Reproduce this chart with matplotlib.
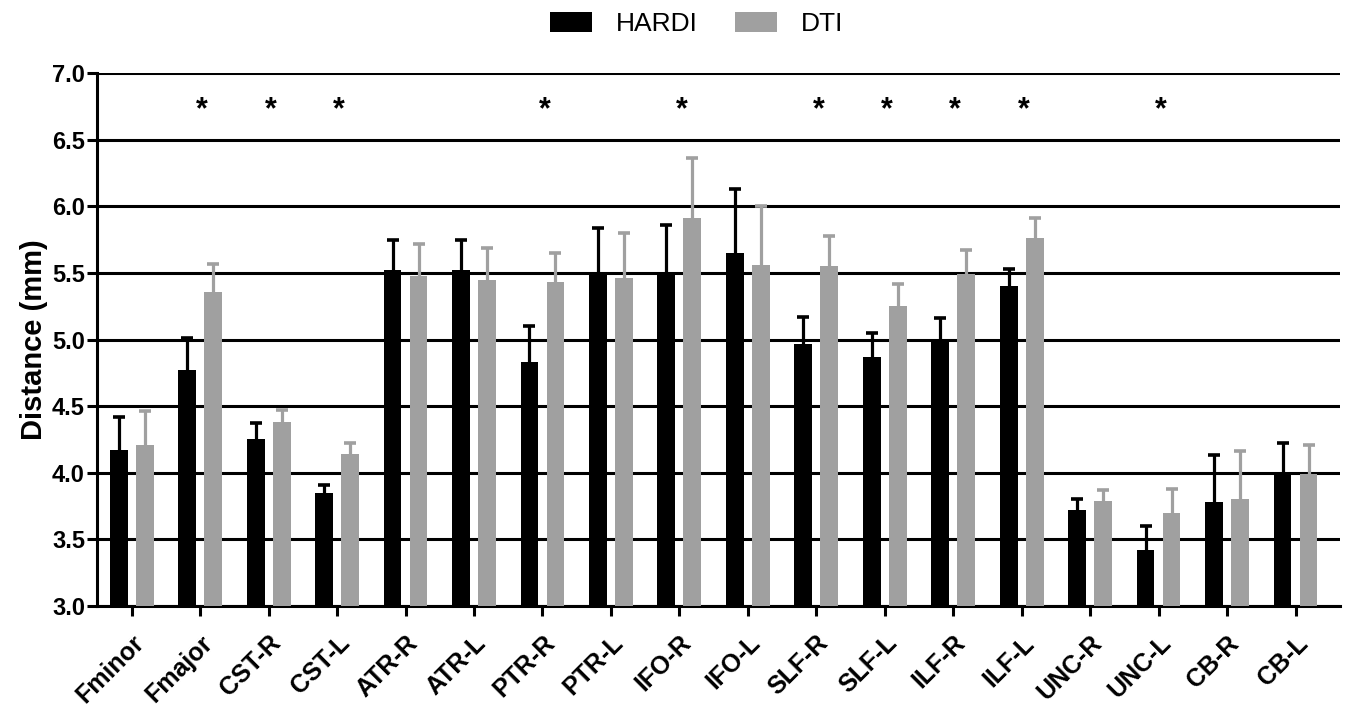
import numpy as np
import matplotlib.pyplot as plt

plt.rcParams['font.family'] = ['Liberation Sans', 'DejaVu Sans']

# tract names
tracts = ['Fminor', 'Fmajor', 'CST-R', 'CST-L', 'ATR-R', 'ATR-L', 'PTR-R', 'PTR-L', 'IFO-R',
          'IFO-L', 'SLF-R', 'SLF-L', 'ILF-R', 'ILF-L', 'UNC-R', 'UNC-L', 'CB-R', 'CB-L']

# mean distance (mm)
hardi = [4.17, 4.77, 4.25, 3.85, 5.52, 5.52, 4.83, 5.51, 5.50,
         5.65, 4.97, 4.87, 5.00, 5.40, 3.72, 3.42, 3.78, 4.00]
dti = [4.21, 5.36, 4.38, 4.14, 5.48, 5.45, 5.43, 5.46, 5.91,
       5.56, 5.55, 5.25, 5.49, 5.76, 3.79, 3.70, 3.80, 3.99]

# upper error (SD)
hardi_err = [0.25, 0.24, 0.12, 0.06, 0.23, 0.23, 0.27, 0.33, 0.36,
             0.48, 0.20, 0.18, 0.16, 0.13, 0.08, 0.18, 0.35, 0.22]
dti_err = [0.25, 0.21, 0.09, 0.08, 0.24, 0.24, 0.22, 0.34, 0.45,
           0.44, 0.23, 0.17, 0.18, 0.15, 0.08, 0.18, 0.36, 0.22]

# significant differences
signif = ['Fmajor', 'CST-R', 'CST-L', 'PTR-R', 'IFO-R', 'SLF-R', 'SLF-L', 'ILF-R', 'ILF-L', 'UNC-L']

gray = '#a0a0a0'
x = np.arange(len(tracts))
w = 0.26
off = 0.19

fig = plt.figure(figsize=(13.5, 7.09), dpi=100)
ax = fig.add_axes([0.0722, 0.1453, 0.9204, 0.7517])

ekw = dict(elinewidth=2.3, capsize=4.5, capthick=2.6)
b1 = ax.bar(x - off, hardi, w, color='black', label='HARDI', zorder=3,
            yerr=[np.zeros(len(x)), hardi_err], error_kw=dict(ecolor='black', **ekw))
b2 = ax.bar(x + off, dti, w, color=gray, label='DTI', zorder=3,
            yerr=[np.zeros(len(x)), dti_err], error_kw=dict(ecolor=gray, **ekw))
# only the upper caps
for b in (b1, b2):
    b.errorbar.lines[1][0].set_visible(False)

for t in signif:
    ax.text(tracts.index(t) + 0.03, 6.72, '*', ha='center', va='center', fontsize=22, fontweight='bold')

ax.set_ylim(3.0, 7.0)
ax.set_xlim(-0.5, 17.65)
ax.set_yticks(np.arange(3.0, 7.01, 0.5))
ax.set_yticklabels(['%.1f' % v for v in np.arange(3.0, 7.01, 0.5)], fontsize=17, fontweight='bold')
ax.set_xticks(x)
ax.set_xticklabels(tracts, rotation=45, ha='right', rotation_mode='anchor', fontsize=18, fontweight='bold')
ax.set_ylabel('Distance (mm)', fontsize=21, fontweight='bold', labelpad=3)

ax.yaxis.grid(True, color='black', linewidth=2.2, zorder=0)
ax.set_axisbelow(True)
ax.spines['top'].set_visible(False)
ax.spines['right'].set_visible(False)
ax.spines['left'].set_linewidth(2.2)
ax.spines['bottom'].set_linewidth(2.2)
ax.tick_params(axis='both', width=2.2, length=7, direction='out')
ax.tick_params(axis='y', pad=2)
ax.tick_params(axis='x', pad=11)

ax.legend(loc='lower center', bbox_to_anchor=(0.482, 1.025), ncol=2, frameon=False,
          fontsize=19, handlelength=1.6, handleheight=0.8, columnspacing=1.4, handletextpad=0.9)

fig.savefig('out.png', dpi=100)
